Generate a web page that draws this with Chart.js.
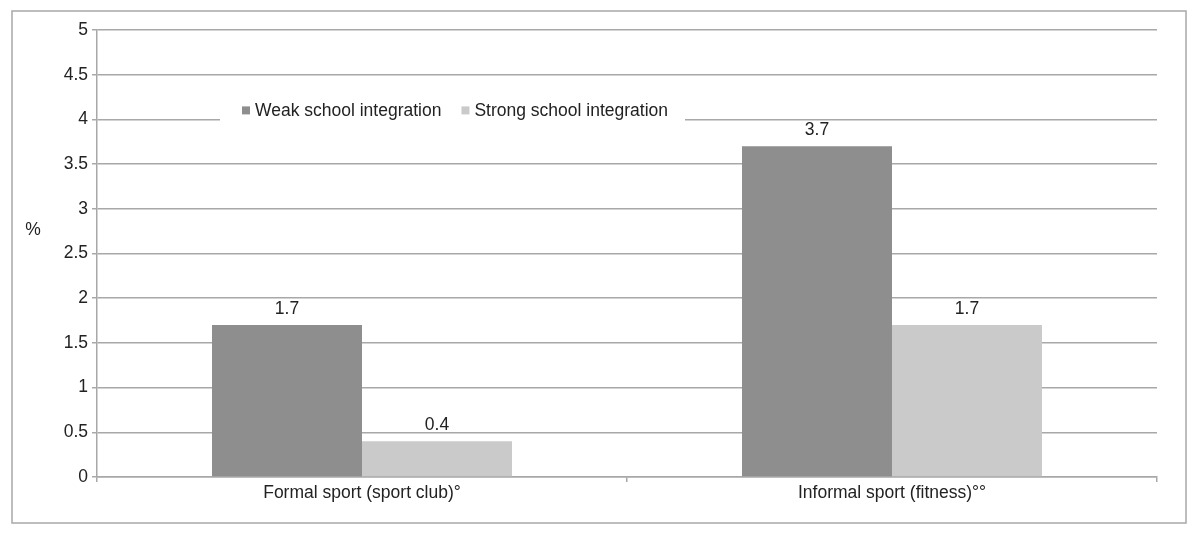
<!DOCTYPE html>
<html>
<head>
<meta charset="utf-8">
<script src="https://cdn.jsdelivr.net/npm/chart.js@4"></script>
<style>
  html, body { margin: 0; padding: 0; background: #fff; }
  #wrap { width: 1200px; height: 540px; }
</style>
</head>
<body>
<div id="wrap"><canvas id="sportChart" width="1200" height="540"></canvas></div>
<script>
const categories = ['Formal sport (sport club)°', 'Informal sport (fitness)°°'];
const weakIntegration = [1.7, 3.7];
const strongIntegration = [0.4, 1.7];
const seriesNames = ['Weak school integration', 'Strong school integration'];
const yTicks = [0, 0.5, 1, 1.5, 2, 2.5, 3, 3.5, 4, 4.5, 5];

const FONT = '"Liberation Sans", Arial, sans-serif';
const FSIZE = 17.5;
const gridColor = '#a8a8a8';

// frame, "%" label, legend box and value labels
const extras = {
  id: 'extras',
  beforeDraw(chart) {
    const c = chart.ctx;
    c.save();
    c.fillStyle = '#fff';
    c.fillRect(0, 0, chart.width, chart.height);
    c.strokeStyle = gridColor;
    c.lineWidth = 1.5;
    c.strokeRect(12, 11, 1174, 512);
    c.restore();
  },
  afterDatasetsDraw(chart) {
    const c = chart.ctx;
    c.save();
    c.font = FSIZE + 'px ' + FONT;
    c.fillStyle = '#222';
    c.textAlign = 'center';
    c.textBaseline = 'middle';
    chart.data.datasets.forEach((ds, i) => {
      chart.getDatasetMeta(i).data.forEach((bar, j) => {
        c.fillText(String(ds.data[j]), bar.x, bar.y - 16);
      });
    });

    // y title
    c.fillText('%', 33, 230);

    // legend inside plot
    const y = chart.scales.y.getPixelForValue(4) - 8;
    c.fillStyle = '#fff';
    c.fillRect(220, y - 16, 465, 32);
    let x = 242;
    c.textAlign = 'left';
    chart.data.datasets.forEach((ds) => {
      c.fillStyle = ds.backgroundColor;
      c.fillRect(x, y - 5, 8, 8);
      c.fillStyle = '#222';
      c.fillText(ds.label, x + 13, y);
      x += 13 + c.measureText(ds.label).width + 20;
    });
    c.restore();
  }
};

new Chart(document.getElementById('sportChart'), {
  type: 'bar',
  data: {
    labels: categories,
    datasets: [
      { label: seriesNames[0], data: weakIntegration, backgroundColor: '#8e8e8e' },
      { label: seriesNames[1], data: strongIntegration, backgroundColor: '#cacaca' }
    ]
  },
  options: {
    responsive: false,
    animation: false,
    devicePixelRatio: 1,
    categoryPercentage: 0.566,
    barPercentage: 1,
    layout: { padding: { top: 30, right: 43, left: 0, bottom: 0 } },
    plugins: { legend: { display: false }, tooltip: { enabled: false } },
    scales: {
      x: {
        afterFit(s) { s.height = 63; },
        grid: { offset: true, drawOnChartArea: false, drawTicks: true, tickLength: 5, color: gridColor, lineWidth: 1.5 },
        border: { color: gridColor, width: 1.5 },
        ticks: { color: '#222', font: { family: FONT, size: FSIZE }, padding: 1 }
      },
      y: {
        min: 0,
        max: 5,
        afterFit(s) { s.width = 97; },
        afterBuildTicks(s) { s.ticks = yTicks.map(v => ({ value: v })); },
        grid: { color: gridColor, lineWidth: 1.5, tickLength: 5 },
        border: { color: gridColor, width: 1.5 },
        ticks: {
          color: '#222',
          font: { family: FONT, size: FSIZE },
          padding: 4,
          callback: (v) => String(v)
        }
      }
    }
  },
  plugins: [extras]
});
</script>
</body>
</html>
